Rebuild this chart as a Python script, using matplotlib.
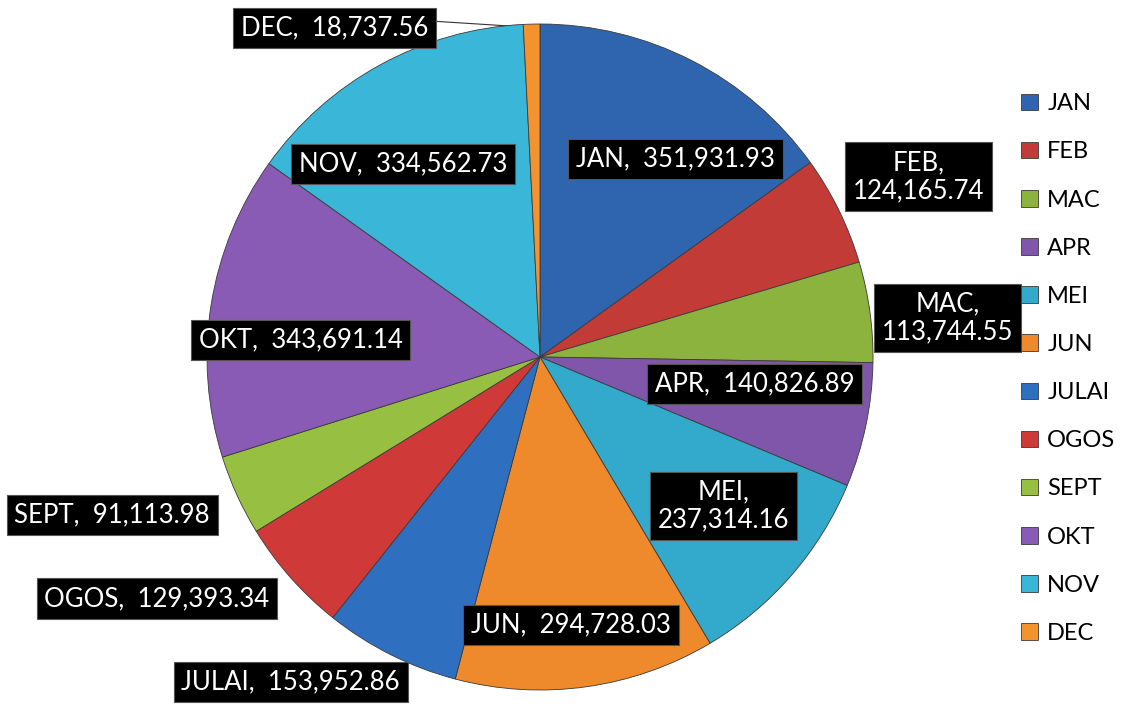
import numpy as np
from matplotlib import pyplot as plt

# monthly totals
months = ["JAN", "FEB", "MAC", "APR", "MEI", "JUN",
          "JULAI", "OGOS", "SEPT", "OKT", "NOV", "DEC"]
values = [351931.93, 124165.74, 113744.55, 140826.89, 237314.16, 294728.03,
          153952.86, 129393.34, 91113.98, 343691.14, 334562.73, 18737.56]

colors = ["#2F65AE", "#C23B36", "#8DB33F", "#7F56AA", "#33A9CB", "#EE8A2B",
          "#2F6FC0", "#CF3A38", "#97C043", "#8A5BB5", "#3AB6D8", "#F39330"]

# label placement: (radius factor, angle in degrees), two-line labels where needed
label_pos = [(0.72, 55.6), (1.26, 25.5), (1.23, 5.5), (0.65, -7.2),
             (0.71, -39.0), (0.81, -83.4), (1.23, -127.5), (1.36, -147.8),
             (1.37, -159.7), (0.72, 175.9), (0.71, 125.4), (1.165, 122.0)]
two_line = ["FEB", "MAC", "MEI"]

plt.rcParams['font.family'] = ['Lato', 'DejaVu Sans']

fig = plt.figure(figsize=(11.3, 7.04), dpi=100)
ax = fig.add_axes([207 / 1130, 14 / 704, 666 / 1130, 666 / 704])

wedges, _ = ax.pie(values, colors=colors, startangle=90, counterclock=False,
                   radius=1, wedgeprops=dict(edgecolor="#3a3a3a", linewidth=0.6))
ax.set_xlim(-1, 1)
ax.set_ylim(-1, 1)
ax.set_aspect('equal')
ax.axis('off')

for i, (m, v) in enumerate(zip(months, values)):
    r, a = label_pos[i]
    x = r * np.cos(np.radians(a))
    y = r * np.sin(np.radians(a))
    if m in two_line:
        txt = m + ",\n" + format(v, ",.2f")
    else:
        txt = m + ",  " + format(v, ",.2f")
    ax.text(x, y, txt, color="white", fontsize=18.5, ha="center", va="center",
            linespacing=1.15, clip_on=False,
            bbox=dict(boxstyle="square,pad=0.3", fc="black", ec="#555555", lw=0.8))

# leader line for the small DEC slice
w = wedges[-1]
mid = np.radians((w.theta1 + w.theta2) / 2)
r, a = label_pos[-1]
bx = r * np.cos(np.radians(a))
by = r * np.sin(np.radians(a))
ax.plot([bx + 0.305, 0.99 * np.cos(mid)], [by + 0.02, 0.99 * np.sin(mid)],
        color="#333333", lw=0.8, zorder=0.5, clip_on=False)

fig.legend(wedges, months, loc="upper left", bbox_to_anchor=(1000 / 1130, 1 - 72 / 704),
           frameon=False, fontsize=17, handlelength=0.7, handleheight=0.7,
           handletextpad=0.4, labelspacing=1.15)

plt.savefig("out.png", dpi=100)
